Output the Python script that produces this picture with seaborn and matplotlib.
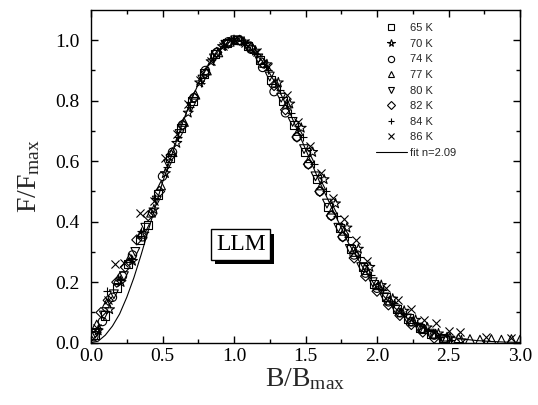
import numpy as np
import pandas as pd
import matplotlib
matplotlib.use("Agg")
import matplotlib.pyplot as plt
import matplotlib.patheffects as pe
from matplotlib.lines import Line2D
import seaborn as sns

# ---------------- data ----------------
x65 = [0.03,0.10,0.18,0.26,0.34,0.40,0.47,0.55,0.63,0.71,0.79,0.87,0.95,1.02,1.10,1.18,1.26,1.34,1.42,1.50,1.58,1.66,1.74,1.82,1.90,1.98,2.06,2.14,2.22,2.30,2.38,2.46]
y65 = [0.025,0.09,0.18,0.26,0.34,0.39,0.49,0.61,0.71,0.80,0.89,0.955,0.99,1.00,0.98,0.935,0.87,0.80,0.72,0.63,0.54,0.45,0.38,0.31,0.25,0.195,0.15,0.11,0.08,0.05,0.03,0.015]

x70 = [0.05,0.13,0.21,0.29,0.37,0.44,0.52,0.60,0.68,0.76,0.84,0.92,1.00,1.07,1.15,1.23,1.31,1.39,1.47,1.55,1.63,1.71,1.79,1.87,1.95,2.03,2.11,2.19,2.27,2.35,2.43,2.51,2.59]
y70 = [0.04,0.11,0.20,0.27,0.36,0.44,0.56,0.66,0.76,0.86,0.93,0.98,1.00,0.995,0.965,0.92,0.86,0.79,0.71,0.63,0.54,0.46,0.38,0.31,0.25,0.19,0.145,0.105,0.075,0.05,0.03,0.016,0.007]

x74 = [0.02,0.08,0.15,0.22,0.29,0.36,0.43,0.50,0.57,0.64,0.72,0.80,0.88,0.96,1.04,1.12,1.20,1.28,1.36,1.44,1.52,1.60,1.68,1.76,1.84,1.92,2.00,2.08,2.16,2.24,2.32,2.40,2.48]
y74 = [0.02,0.07,0.15,0.22,0.29,0.35,0.43,0.55,0.63,0.72,0.81,0.90,0.96,0.995,1.00,0.97,0.91,0.83,0.76,0.68,0.59,0.50,0.42,0.35,0.29,0.23,0.18,0.135,0.10,0.07,0.045,0.025,0.01]

x77 = [0.04,0.11,0.19,0.27,0.35,0.42,0.49,0.57,0.65,0.73,0.81,0.89,0.97,1.05,1.13,1.21,1.29,1.37,1.45,1.53,1.61,1.69,1.77,1.85,1.93,2.01,2.09,2.17,2.25,2.33,2.41,2.49,2.57,2.65,2.72,2.80,2.87,2.94,3.00]
y77 = [0.06,0.13,0.21,0.28,0.36,0.43,0.52,0.63,0.73,0.82,0.90,0.96,0.995,1.00,0.975,0.925,0.86,0.79,0.70,0.61,0.52,0.44,0.37,0.30,0.24,0.19,0.14,0.10,0.07,0.045,0.03,0.02,0.015,0.012,0.01,0.012,0.01,0.012,0.01]

x80 = [0.03,0.09,0.16,0.23,0.31,0.38,0.46,0.54,0.62,0.70,0.78,0.86,0.94,1.01,1.09,1.17,1.25,1.33,1.41,1.49,1.57,1.65,1.73,1.81,1.89,1.97,2.05,2.13,2.21,2.29,2.37,2.45]
y80 = [0.03,0.09,0.16,0.22,0.30,0.38,0.47,0.59,0.69,0.78,0.87,0.94,0.985,1.00,0.98,0.94,0.88,0.81,0.73,0.64,0.55,0.46,0.38,0.31,0.25,0.20,0.15,0.11,0.08,0.05,0.03,0.01]

x82 = [0.02,0.07,0.12,0.18,0.24,0.32,0.40,0.48,0.56,0.64,0.72,0.80,0.88,0.96,1.04,1.12,1.20,1.28,1.36,1.44,1.52,1.60,1.68,1.76,1.84,1.92,2.00,2.08,2.16,2.24,2.32,2.40]
y82 = [0.03,0.10,0.14,0.20,0.25,0.34,0.42,0.50,0.62,0.72,0.81,0.89,0.96,0.99,1.00,0.975,0.925,0.85,0.77,0.68,0.59,0.50,0.42,0.35,0.28,0.22,0.17,0.125,0.09,0.06,0.035,0.015]

x84 = [0.05,0.11,0.20,0.28,0.35,0.45,0.53,0.61,0.69,0.77,0.85,0.93,1.00,1.08,1.16,1.24,1.32,1.40,1.48,1.56,1.64,1.72,1.80,1.88,1.96,2.04,2.12,2.20,2.28,2.36,2.44,2.52]
y84 = [0.05,0.17,0.21,0.28,0.37,0.48,0.58,0.68,0.78,0.86,0.94,0.98,1.00,0.99,0.955,0.90,0.835,0.76,0.68,0.59,0.50,0.42,0.35,0.285,0.225,0.175,0.13,0.095,0.065,0.04,0.02,0.01]

x86 = [0.04,0.12,0.17,0.23,0.34,0.44,0.52,0.60,0.68,0.76,0.84,0.92,1.00,1.08,1.16,1.24,1.37,1.45,1.53,1.61,1.69,1.77,1.85,1.93,2.06,2.15,2.24,2.33,2.41,2.50,2.58,2.76,2.94]
y86 = [0.05,0.14,0.26,0.265,0.43,0.47,0.61,0.69,0.79,0.87,0.93,0.98,1.00,0.99,0.96,0.91,0.82,0.73,0.65,0.56,0.48,0.41,0.34,0.27,0.18,0.14,0.11,0.075,0.065,0.04,0.036,0.02,0.015]

fit_x = [0.0,0.05,0.10,0.15,0.20,0.25,0.30,0.35,0.40,0.45,0.50,0.55,0.60,0.65,0.70,0.75,0.80,0.85,0.90,0.95,1.00,1.05,1.10,1.20,1.30,1.40,1.50,1.60,1.70,1.80,1.90,2.00,2.10,2.20,2.30,2.40,2.50,2.60,2.70,2.80,2.90,3.00]
fit_y = [0.0,0.005,0.025,0.055,0.095,0.15,0.215,0.29,0.37,0.45,0.53,0.60,0.67,0.74,0.80,0.855,0.90,0.94,0.97,0.99,1.00,0.995,0.98,0.93,0.85,0.75,0.64,0.53,0.43,0.33,0.25,0.18,0.125,0.085,0.055,0.034,0.02,0.012,0.007,0.004,0.002,0.001]

labels = ["65 K", "70 K", "74 K", "77 K", "80 K", "82 K", "84 K", "86 K"]
markers = ["s", "*", "o", "^", "v", "D", "+", "x"]
xs = [x65, x70, x74, x77, x80, x82, x84, x86]
ys = [y65, y70, y74, y77, y80, y82, y84, y86]
fit_label = "fit n=2.09"

# ---------------- style ----------------
sns.set_theme(style="ticks")
plt.rcParams["font.family"] = ["Liberation Serif", "DejaVu Serif"]
plt.rcParams["mathtext.fontset"] = "custom"
plt.rcParams["mathtext.rm"] = "Liberation Serif"
plt.rcParams["mathtext.it"] = "Liberation Serif:italic"

fig = plt.figure(figsize=(5.38, 4.05), dpi=100)
ax = fig.add_axes([91/538, (405-342.7)/405, (520-91)/538, (342.7-10)/405])

msize = {"s": 34, "*": 55, "o": 36, "^": 40, "v": 40, "D": 26, "+": 40, "x": 34}
for lab, m, x, y in zip(labels, markers, xs, ys):
    df = pd.DataFrame({"x": x, "y": y})
    if m in ("+", "x"):
        sns.scatterplot(data=df, x="x", y="y", marker=m, color="black",
                        s=msize[m], linewidth=0.8, ax=ax, legend=False, zorder=3)
    else:
        sns.scatterplot(data=df, x="x", y="y", marker=m, facecolor="none",
                        edgecolor="black", s=msize[m], linewidth=0.8, ax=ax,
                        legend=False, zorder=3)

fit_df = pd.DataFrame({"x": fit_x, "y": fit_y})
sns.lineplot(data=fit_df, x="x", y="y", color="black", linewidth=0.8, ax=ax,
             legend=False, zorder=2, sort=False)

ax.set_xlim(0, 3.0)
ax.set_ylim(0, 1.1)
ax.set_xticks([0, 0.5, 1.0, 1.5, 2.0, 2.5, 3.0])
ax.set_xticks(np.arange(0.25, 3.0, 0.5), minor=True)
ax.set_yticks([0, 0.2, 0.4, 0.6, 0.8, 1.0])
ax.set_yticks([0.1, 0.3, 0.5, 0.7, 0.9], minor=True)
ax.xaxis.set_major_formatter(matplotlib.ticker.FormatStrFormatter("%.1f"))
ax.yaxis.set_major_formatter(matplotlib.ticker.FormatStrFormatter("%.1f"))
ax.tick_params(which="both", direction="in", top=True, right=True,
               labelsize=14, colors="black", width=1.0)
ax.tick_params(which="major", length=5)
ax.tick_params(axis="y", which="major", pad=8)
ax.tick_params(axis="x", which="major", pad=4)
ax.tick_params(which="minor", length=3)
for sp in ax.spines.values():
    sp.set_visible(True)
    sp.set_color("black")
    sp.set_linewidth(1.0)

ax.set_xlabel(r"B/B$_{\rm max}$", fontsize=20, labelpad=1)
ax.set_ylabel(r"F/F$_{\rm max}$", fontsize=20, labelpad=10)

# LLM label with shadowed box
t = ax.text(1.047, 0.324, "LLM", fontsize=17, ha="center", va="center",
            color="black", zorder=5,
            bbox=dict(boxstyle="square,pad=0.2", fc="white", ec="black", lw=1))
t.get_bbox_patch().set_path_effects([
    pe.SimplePatchShadow(offset=(3, -3), shadow_rgbFace="black", alpha=1.0),
    pe.Normal()])

# legend
handles = []
for lab, m in zip(labels, markers):
    if m in ("+", "x"):
        h = Line2D([], [], linestyle="none", marker=m, color="black",
                   markersize=4.5, markeredgewidth=0.8)
    else:
        h = Line2D([], [], linestyle="none", marker=m, markerfacecolor="none",
                   markeredgecolor="black", markersize=4.5 if m != "*" else 5.5,
                   markeredgewidth=0.8)
    handles.append(h)
handles.append(Line2D([], [], color="black", linewidth=0.8))
leg = ax.legend(handles, labels + [fit_label], loc="upper left",
                bbox_to_anchor=(0.664, 0.96), frameon=False,
                prop={"family": "Liberation Sans", "size": 8},
                handlelength=2.8, handletextpad=0.3, labelspacing=0.5,
                borderpad=0, borderaxespad=0)

fig.savefig("out.png", dpi=100)
